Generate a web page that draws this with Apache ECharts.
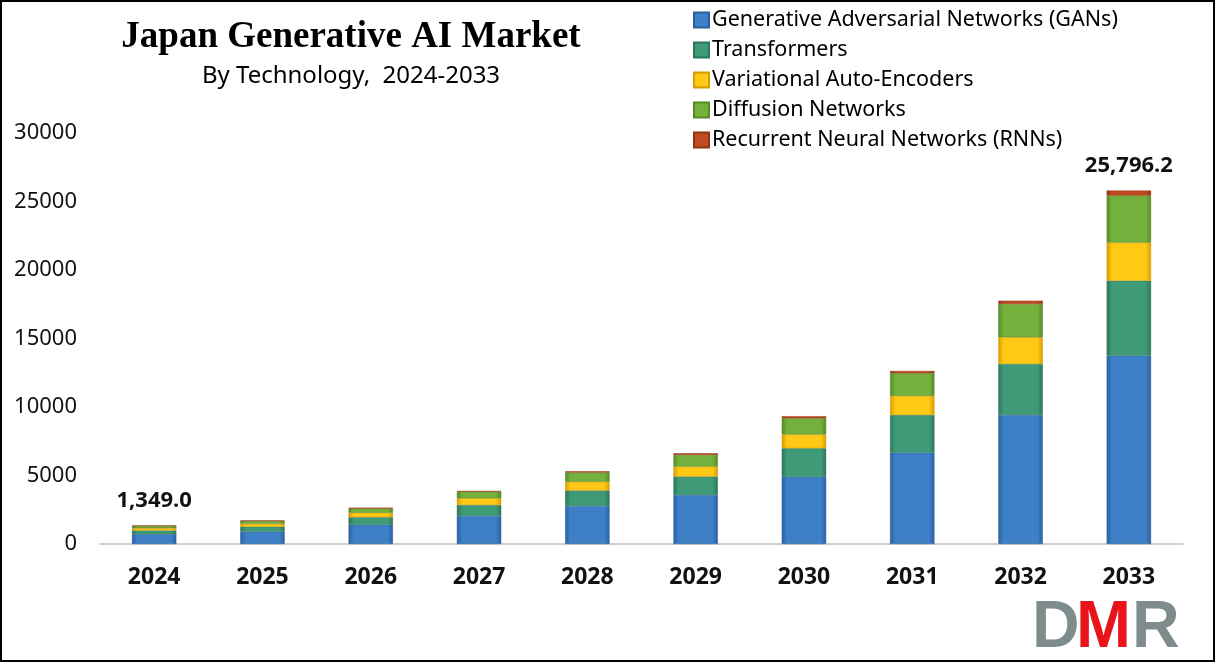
<!DOCTYPE html>
<html>
<head>
<meta charset="utf-8">
<script src="https://cdn.jsdelivr.net/npm/echarts@6/dist/echarts.min.js"></script>
<style>
html,body{margin:0;padding:0;background:#fff;}
#chart{width:1216px;height:663px;}
</style>
</head>
<body>
<div id="chart"></div>
<script>
const categories = ['2024','2025','2026','2027','2028','2029','2030','2031','2032','2033'];
const seriesNames = ['Generative Adversarial Networks (GANs)','Transformers','Variational Auto-Encoders','Diffusion Networks','Recurrent Neural Networks (RNNs)'];
const gans         = [710, 900, 1410, 2050, 2780, 3580, 4910, 6670, 9420, 13750];
const transformers = [280, 360, 550, 800, 1120, 1340, 2070, 2750, 3720, 5470];
const vae          = [165, 210, 320, 490, 650, 730, 1020, 1390, 1950, 2780];
const diffusion    = [165, 210, 320, 480, 660, 850, 1170, 1650, 2430, 3430];
const rnns         = [29, 35, 40, 50, 95, 120, 160, 170, 240, 366.2];
const yTicks = [0, 5000, 10000, 15000, 20000, 25000, 30000];
const labeledIdx = [0, 9];

const seriesData = [gans, transformers, vae, diffusion, rnns];
const colors = [
  ['#3d80c8','#2a609e'],
  ['#3f9a78','#2a7658'],
  ['#ffc915','#d99a00'],
  ['#74b13c','#558a25'],
  ['#c04a22','#93340f']
];
const totals = categories.map((_, i) => seriesData.reduce((s, arr) => s + arr[i], 0));
function fmt(v){
  return v.toLocaleString('en-US',{minimumFractionDigits:1,maximumFractionDigits:1});
}

const chart = echarts.init(document.getElementById('chart'));
const series = seriesData.map((arr, k) => ({
  name: seriesNames[k],
  type: 'bar',
  stack: 'total',
  barWidth: '41%',
  data: arr,
  itemStyle: {
    color: new echarts.graphic.LinearGradient(0,0,1,0,[
      {offset:0,color:colors[k][1]},
      {offset:0.12,color:colors[k][0]},
      {offset:0.88,color:colors[k][0]},
      {offset:1,color:colors[k][1]}
    ]),
    borderColor: colors[k][1],
    borderWidth: 0.5
  },
  label: k === 4 ? {
    show: true,
    position: 'top',
    distance: 14,
    fontFamily: 'Noto Sans',
    fontWeight: 'bold',
    fontSize: 22,
    color: '#111',
    formatter: p => labeledIdx.includes(p.dataIndex) ? fmt(totals[p.dataIndex]) : ''
  } : {show:false}
}));

chart.setOption({
  animation: false,
  backgroundColor: '#fff',
  title: [{
    text: 'Japan Generative AI Market',
    left: 346, textAlign: 'center', top: 14,
    textStyle: {fontFamily: 'Liberation Serif', fontWeight: 'bold', fontSize: 37, color: '#000'}
  },{
    text: 'By Technology,  2024-2033',
    left: 346, textAlign: 'center', top: 59,
    textStyle: {fontFamily: 'Noto Sans', fontWeight: 'normal', fontSize: 24, color: '#000'}
  }],
  legend: {
    orient: 'vertical',
    left: 688, top: 4,
    itemGap: 8,
    itemWidth: 15, itemHeight: 15,
    icon: 'rect',
    data: seriesNames,
    textStyle: {fontFamily: 'Noto Sans', fontSize: 21.5, color: '#000', padding:[0,0,0,-2]}
  },
  grid: {left: 100, right: 33, top: 133, bottom: 119, containLabel: false},
  xAxis: {
    type: 'category',
    data: categories,
    axisLine: {lineStyle: {color: '#d0d0d0', width: 2}},
    axisTick: {show: false},
    axisLabel: {fontFamily: 'Noto Sans', fontWeight: 'bold', fontSize: 23, color: '#111', margin: 22}
  },
  yAxis: {
    type: 'value',
    min: yTicks[0], max: yTicks[yTicks.length-1], interval: yTicks[1]-yTicks[0],
    axisLine: {show: false},
    axisTick: {show: false},
    splitLine: {show: false},
    axisLabel: {fontFamily: 'Noto Sans', fontSize: 22, color: '#111', margin: 23, formatter: v => String(v)}
  },
  series: series,
  graphic: [
    {type:'rect', shape:{x:1,y:1,width:1213,height:660}, style:{fill:'none', stroke:'#000', lineWidth:2}, silent:true, z:100},
    {type:'text', left:1032, top:596, style:{text:'D', font:'bold 66px "Liberation Sans"', fill:'#7f8c8d'}},
    {type:'text', left:1076, top:596, style:{text:'M', font:'bold 66px "Liberation Sans"', fill:'#e8141a'}},
    {type:'text', left:1132, top:596, style:{text:'R', font:'bold 66px "Liberation Sans"', fill:'#7f8c8d'}}
  ]
});
</script>
</body>
</html>
